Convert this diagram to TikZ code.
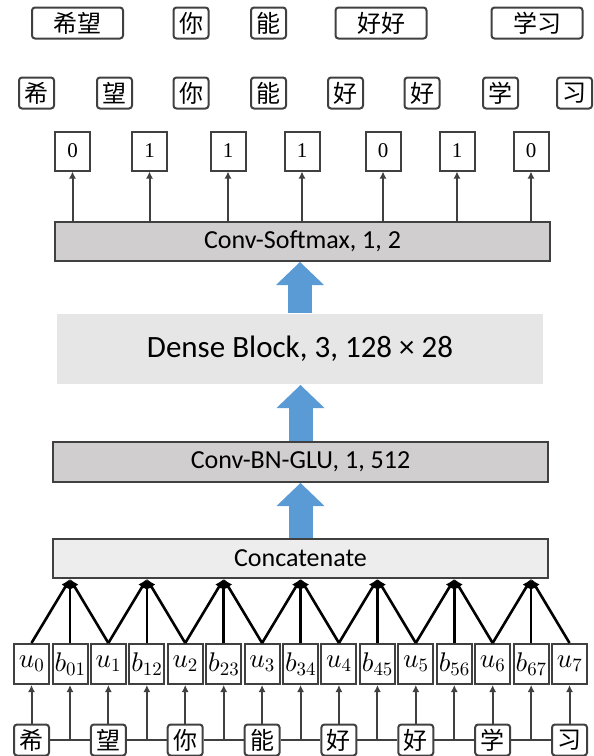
\documentclass[tikz,border=0pt]{standalone}
\usepackage{amsmath}
\usepackage{fontspec}
\newfontfamily\cnfont{Noto Sans CJK SC}
\newfontfamily\lblfont{Carlito}
\newfontfamily\bitfont{Liberation Serif}
\usetikzlibrary{positioning,arrows.meta}
% scalable math fonts
\DeclareFontShape{OML}{cmm}{m}{it}{<->cmmi10}{}
\DeclareFontShape{OT1}{cmr}{m}{n}{<->cmr10}{}

\definecolor{edgegray}{HTML}{404040}
\definecolor{convgray}{HTML}{D0CECE}
\definecolor{densegray}{HTML}{E7E6E6}
\definecolor{catgray}{HTML}{EDEDED}
\definecolor{flowblue}{HTML}{5B9BD5}

\tikzset{
  charbox/.style={draw=edgegray, line width=2pt, rounded corners=3pt,
    minimum width=35pt, minimum height=31pt, inner sep=0pt,
    font=\cnfont\fontsize{24}{24}\selectfont},
  wordbox/.style={charbox, minimum width=91pt},
  bitbox/.style={draw=edgegray, line width=2pt, minimum width=35pt,
    minimum height=39pt, inner sep=0pt, font=\bitfont\fontsize{21}{21}\selectfont},
  unitbox/.style={draw=edgegray, line width=2pt, minimum width=35pt,
    minimum height=40pt, inner sep=0pt, font=\fontsize{27}{27}\selectfont},
  layer/.style={draw=edgegray, line width=2pt, minimum width=495pt,
    minimum height=39pt, inner sep=0pt, font=\lblfont\fontsize{26}{26}\selectfont},
  flow/.style={draw=flowblue, line width=24pt,
    -{Triangle[length=23pt 0 0, width=48pt 0 0, line width=0pt, fill=flowblue]}},
  small/.style={draw=edgegray, line width=2pt, -{Latex[length=7pt 0 0, width=7pt 0 0]}},
  merge/.style={draw=black, line width=2.6pt, -{Latex[length=9pt 0 0, width=9pt 0 0]}},
}

\begin{document}
\begin{tikzpicture}[x=1pt, y=-1pt]
  \useasboundingbox (0,0) rectangle (594,756);

  %  Define nodes
  \node[wordbox] (w0) at (77.5,23) {希望};
  \node[charbox] (w1) at (191,23) {你};
  \node[charbox] (w2) at (268.5,23) {能};
  \node[wordbox] (w3) at (381,23) {好好};
  \node[wordbox] (w4) at (537,23) {学习};

  \foreach \x/\c [count=\i from 0] in {36.5/希, 114.5/望, 191/你, 268.5/能, 345.5/好, 422/好, 500.5/学, 574.5/习}
    \node[charbox] (t\i) at (\x,93) {\c};

  \foreach \x/\v [count=\i from 0] in {72.5/0, 149.5/1, 228/1, 302/1, 383/0, 457/1, 531/0}
    \node[bitbox] (y\i) at (\x,151) {\v};

  \node[layer, fill=convgray] (softmax) at (302.5,241.5) {Conv-Softmax, 1, 2};
  \node[layer, fill=densegray, draw=none, minimum width=486pt, minimum height=70pt,
    font=\lblfont\fontsize{31}{31}\selectfont] (dense) at (300,349) {Dense Block, 3, 128 × 28};
  \node[layer, fill=convgray, minimum height=40pt] (glu) at (300.5,462) {Conv-BN-GLU, 1, 512};
  \node[layer, fill=catgray] (concat) at (300.5,558.5) {Concatenate};

  \foreach \i in {0,...,7}
    \node[unitbox] (u\i) at ({31.5+76.86*\i},664) {$u_{\i}$};
  \foreach \i [evaluate=\i as \j using int(\i+1)] in {0,...,6}
    \node[unitbox] (b\i) at ({70+76.86*\i},664) {$b_{\i\j}$};

  \foreach \c [count=\i from 0] in {希, 望, 你, 能, 好, 好, 学, 习}
    \node[charbox] (s\i) at ({31.5+76.86*\i},740) {\c};

  % Connect the nodes
  \foreach \i in {0,...,7}
    \draw[small] (s\i.north) -- (u\i.south);
  \foreach \i [evaluate=\i as \j using int(\i+1)] in {0,...,6} {
    \draw[edgegray, line width=2pt] (s\i.east) -- (s\j.west);
    \draw[small] (b\i.south |- s\i.east) -- (b\i.south);
    \coordinate (p\i) at (b\i.north |- concat.south);
    \draw[merge] (u\i.north) -- (p\i);
    \draw[merge] (b\i.north) -- (p\i);
    \draw[merge] (u\j.north) -- (p\i);
  }

  \draw[flow] (concat.north) -- (concat.north |- glu.south);
  \draw[flow] (glu.north) -- (glu.north |- dense.south);
  \draw[flow] (dense.north) -- (dense.north |- softmax.south);

  \foreach \i in {0,...,6}
    \draw[small] (softmax.north -| y\i.south) -- (y\i.south);

\end{tikzpicture}
\end{document}
